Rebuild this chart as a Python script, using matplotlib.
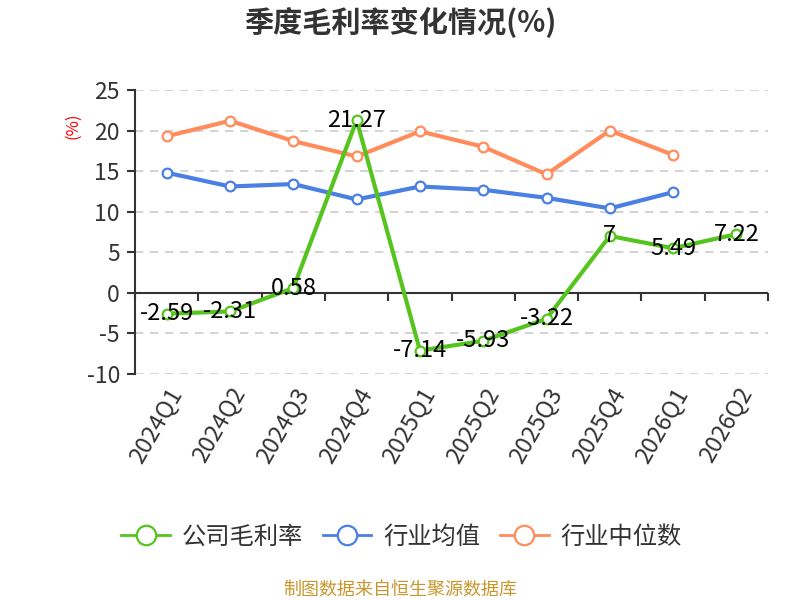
import matplotlib
matplotlib.use("Agg")
import matplotlib.pyplot as plt
import numpy as np

plt.rcParams['font.family'] = ['Noto Sans CJK SC', 'DejaVu Sans']
plt.rcParams['axes.unicode_minus'] = False

quarters = ["2024Q1", "2024Q2", "2024Q3", "2024Q4", "2025Q1",
            "2025Q2", "2025Q3", "2025Q4", "2026Q1", "2026Q2"]
company = [-2.59, -2.31, 0.58, 21.27, -7.14, -5.93, -3.22, 7, 5.49, 7.22]
industry_mean = [14.8, 13.1, 13.4, 11.5, 13.1, 12.7, 11.7, 10.4, 12.4]
industry_median = [19.3, 21.2, 18.7, 16.8, 19.9, 18.0, 14.6, 20.0, 17.0]

GREEN = "#56c41f"
BLUE = "#4a80e4"
ORANGE = "#ff8c5a"
TXT = "#333333"

fig = plt.figure(figsize=(8, 6), dpi=100)
ax = fig.add_axes([0.169, 0.377, 0.791, 0.473])

x = np.arange(len(quarters))
mk = dict(marker="o", markersize=7, markerfacecolor="white", markeredgewidth=1.6)
ax.plot(x, company, color=GREEN, lw=3, label="公司毛利率", zorder=4, **mk)
ax.plot(x[:len(industry_mean)], industry_mean, color=BLUE, lw=3, label="行业均值", zorder=3, **mk)
ax.plot(x[:len(industry_median)], industry_median, color=ORANGE, lw=3, label="行业中位数", zorder=3, **mk)

for xi, v in zip(x, company):
    ax.text(xi, v, f"{v:g}", ha="center", va="center", fontsize=17, color="black", zorder=6)

ax.set_xlim(-0.5, len(quarters) - 0.5)
ax.set_ylim(-10, 25)
ax.set_yticks(np.arange(-10, 26, 5))
ax.yaxis.grid(True, color="#cccccc", linestyle=(0, (5, 4)), lw=1.2, zorder=0)
ax.set_axisbelow(True)
ax.tick_params(axis="y", labelsize=16.5, colors=TXT, length=6, width=1.5, pad=5)

for s in ["top", "right", "bottom"]:
    ax.spines[s].set_visible(False)
ax.spines["left"].set_color(TXT)
ax.spines["left"].set_linewidth(1.5)

# category labels at bottom
ax.set_xticks(x)
ax.set_xticklabels(quarters, rotation=60, ha="right", rotation_mode="anchor",
                   fontsize=17, color=TXT)
ax.tick_params(axis="x", length=0, pad=7)

# axis line at zero with ticks between categories
ax.axhline(0, color=TXT, lw=1.5, zorder=2)
sec = ax.secondary_xaxis(10 / 35)
sec.set_xticks(np.arange(-0.5, len(quarters), 1.0))
sec.set_xticklabels([])
sec.tick_params(axis="x", length=6, width=1.5, color=TXT)
sec.spines["bottom"].set_visible(False)

fig.text(0.091, 0.79, "(%)", color="red", fontsize=12, rotation=90, ha="center", va="center")
fig.text(0.5, 0.963, "季度毛利率变化情况(%)", ha="center", va="center",
         fontsize=21, fontweight="bold", color=TXT)

leg = fig.legend(loc="center", bbox_to_anchor=(0.502, 0.105), ncol=3, frameon=False,
                 fontsize=17.5, handlelength=2.0, handletextpad=0.5, columnspacing=0.8,
                 labelcolor=TXT)
for h in leg.legend_handles:
    h.set_markersize(14)
    h.set_linewidth(2)

fig.text(0.5, 0.018, "制图数据来自恒生聚源数据库", ha="center", va="center",
         fontsize=13, color="#c9962e")

fig.savefig("out.png", dpi=100)
